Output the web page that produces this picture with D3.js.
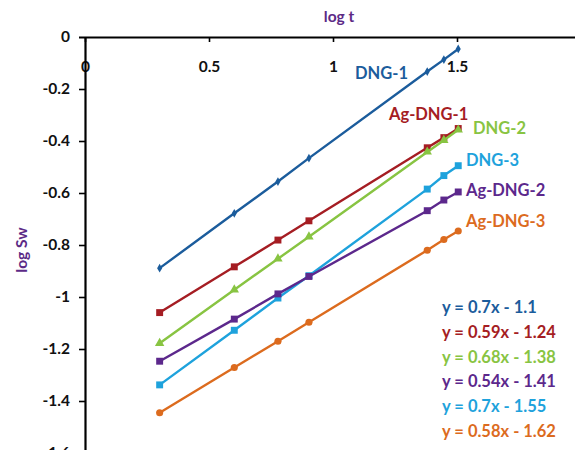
<!DOCTYPE html>
<html>
<head>
<meta charset="utf-8">
<script src="https://cdn.jsdelivr.net/npm/d3@7"></script>
<style>
  body { margin: 0; background: #fff; }
  text { font-family: Lato, "Open Sans", sans-serif; font-weight: bold; }
</style>
</head>
<body>
<div id="chart"></div>
<script>
// Width and height of the picture
var width = 575, height = 450;

// log t values (t = 2, 4, 6, 8, 24, 28, 32)
var logT = [0.301, 0.602, 0.778, 0.903, 1.380, 1.447, 1.505];

// log Sw values
var dng1   = [-0.889, -0.678, -0.556, -0.466, -0.133, -0.087, -0.046];
var agDng1 = [-1.060, -0.884, -0.781, -0.707, -0.426, -0.387, -0.352];
var dng2   = [-1.178, -0.972, -0.853, -0.768, -0.442, -0.397, -0.357];
var agDng2 = [-1.247, -1.085, -0.988, -0.921, -0.668, -0.627, -0.596];
var dng3   = [-1.338, -1.128, -1.004, -0.918, -0.585, -0.533, -0.495];
var agDng3 = [-1.445, -1.271, -1.170, -1.097, -0.820, -0.779, -0.746];

var seriesNames = ["DNG-1", "Ag-DNG-1", "DNG-2", "DNG-3", "Ag-DNG-2", "Ag-DNG-3"];
var seriesValues = [dng1, agDng1, dng2, dng3, agDng2, agDng3];
var seriesColors = ["#1b5c9c", "#a51d23", "#88c442", "#1ea2dc", "#5c288c", "#dc6b1e"];
var seriesMarkers = ["diamond", "square", "triangle", "square", "square", "circle"];

// Trend line equations (legend order)
var equations = ["y = 0.7x - 1.1", "y = 0.59x - 1.24", "y = 0.68x - 1.38",
                 "y = 0.54x - 1.41", "y = 0.7x - 1.55", "y = 0.58x - 1.62"];
var equationColors = ["#1b5c9c", "#a51d23", "#88c442", "#5c288c", "#1ea2dc", "#dc6b1e"];

var xTicks = [0, 0.5, 1, 1.5];
var yTicks = [0, -0.2, -0.4, -0.6, -0.8, -1, -1.2, -1.4, -1.6];

var svg = d3.select("#chart").append("svg")
    .attr("width", width)
    .attr("height", height);

// Scales
var x = d3.scaleLinear().domain([0, 2]).range([85, 581]);
var y = d3.scaleLinear().domain([0, -1.6]).range([37, 453]);

// Top x axis, ticks pointing down into the plot, labels below
var xAxis = svg.append("g")
    .attr("transform", "translate(0," + y(0) + ")")
    .call(d3.axisBottom(x).tickValues(xTicks).tickSize(5).tickPadding(19)
        .tickFormat(function(d) { return d; }).tickSizeOuter(0));
xAxis.select(".domain").attr("d", "M79,0.5H" + width).attr("stroke-width", 2.2);
xAxis.selectAll(".tick line").attr("stroke-width", 1.6);
xAxis.selectAll(".tick text").attr("font-size", 15.5).attr("fill", "#111");

// Left y axis
var yAxis = svg.append("g")
    .attr("transform", "translate(" + x(0) + ",0)")
    .call(d3.axisLeft(y).tickValues(yTicks).tickSize(6).tickPadding(9)
        .tickFormat(function(d) { return d; }).tickSizeOuter(0));
yAxis.select(".domain").attr("d", "M0.5," + y(0) + "V" + height).attr("stroke-width", 2.2);
yAxis.selectAll(".tick line").attr("stroke-width", 1.6);
yAxis.selectAll(".tick text").attr("font-size", 15.5).attr("fill", "#111");
yAxis.selectAll(".tick").filter(function(d) { return d === 0; }).select("line").remove();

// Axis titles
svg.append("text")
    .attr("x", 339).attr("y", 22)
    .attr("text-anchor", "middle")
    .attr("font-size", 15.5)
    .attr("fill", "#5c2a86")
    .text("log t");
svg.append("text")
    .attr("transform", "translate(27,250) rotate(-90)")
    .attr("text-anchor", "middle")
    .attr("font-size", 15.5)
    .attr("fill", "#5c2a86")
    .text("log Sw");

// Lines and markers
var line = d3.line()
    .x(function(d) { return x(d[0]); })
    .y(function(d) { return y(d[1]); });

var symbolTypes = {
  diamond: d3.symbolDiamond,
  square: d3.symbolSquare,
  triangle: d3.symbolTriangle,
  circle: d3.symbolCircle
};
var symbolSizes = { diamond: 22, square: 48, triangle: 38, circle: 40 };

seriesValues.forEach(function(vals, i) {
  var pts = logT.map(function(t, j) { return [t, vals[j]]; });
  var g = svg.append("g");
  g.append("path")
      .datum(pts)
      .attr("d", line)
      .attr("fill", "none")
      .attr("stroke", seriesColors[i])
      .attr("stroke-width", 2.4);
  g.selectAll("path.marker")
      .data(pts)
      .enter()
      .append("path")
      .attr("class", "marker")
      .attr("transform", function(d) { return "translate(" + x(d[0]) + "," + y(d[1]) + ")"; })
      .attr("d", d3.symbol().type(symbolTypes[seriesMarkers[i]]).size(symbolSizes[seriesMarkers[i]]))
      .attr("fill", seriesColors[i]);
});

// Series labels next to the lines
var labelPos = [[355, 79], [389, 120], [473, 134], [466, 166], [466, 196], [466, 227]];
seriesNames.forEach(function(name, i) {
  svg.append("text")
      .attr("x", labelPos[i][0]).attr("y", labelPos[i][1])
      .attr("font-size", 16.5)
      .attr("fill", seriesColors[i])
      .text(name);
});

// Equations
svg.selectAll("text.eq")
    .data(equations)
    .enter()
    .append("text")
    .attr("class", "eq")
    .attr("x", 442)
    .attr("y", function(d, i) { return 313 + i * 24.8; })
    .attr("font-size", 16.5)
    .attr("fill", function(d, i) { return equationColors[i]; })
    .text(function(d) { return d; });
</script>
</body>
</html>
